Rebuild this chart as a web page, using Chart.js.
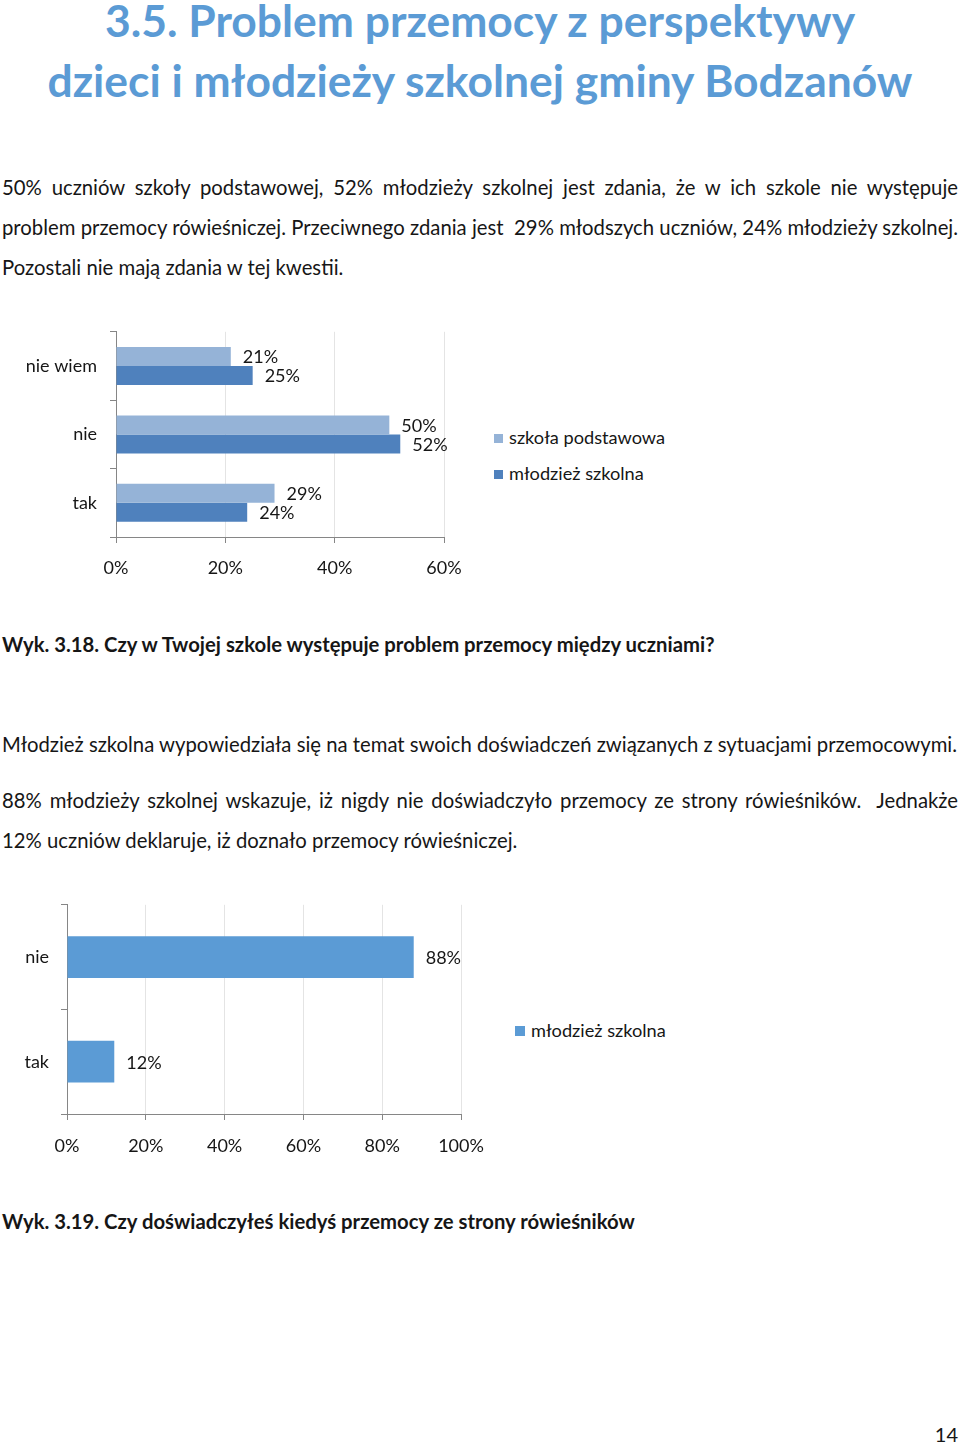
<!DOCTYPE html>
<html>
<head>
<meta charset="utf-8">
<script src="https://cdn.jsdelivr.net/npm/chart.js@4.4.1/dist/chart.umd.min.js"></script>
<style>
  body { margin: 0; background: #fff; width: 960px; height: 1444px; position: relative; font-family: Lato, 'Open Sans', sans-serif; color: #161616; overflow: hidden; }
  .t { position: absolute; white-space: nowrap; line-height: 30px; }
  .title { left: 0; width: 960px; text-align: center; font-weight: bold; color: #5b9bd5; font-size: 44.4px; line-height: 30px; }
  .ln { left: 2px; width: 956px; font-size: 20.3px; }
  .just { text-align: justify; text-align-last: justify; }
  .cap { left: 2px; font-size: 20.3px; font-weight: bold; }
  .leg { position: absolute; font-size: 18.2px; line-height: 24px; white-space: nowrap; }
  .leg i { display: inline-block; margin-right: 6px; vertical-align: 1px; }
  canvas { position: absolute; left: 0; }
</style>
</head>
<body>

<div class="t title" style="top:5px;">3.5. Problem przemocy z perspektywy</div>
<div class="t title" style="top:65px;">dzieci i młodzieży szkolnej gminy Bodzanów</div>

<div class="t ln just" style="top:172px;">50% uczniów szkoły podstawowej, 52% młodzieży szkolnej jest zdania, że w ich szkole nie występuje</div>
<div class="t ln just" style="top:212px;">problem przemocy rówieśniczej. Przeciwnego zdania jest &nbsp;29% młodszych uczniów, 24% młodzieży szkolnej.</div>
<div class="t ln" style="top:252px;">Pozostali nie mają zdania w tej kwestii.</div>

<canvas id="chart1" width="480" height="270"></canvas>
<div id="legend1"></div>

<div class="t cap" style="top:629px;">Wyk. 3.18. Czy w Twojej szkole występuje problem przemocy między uczniami?</div>

<div class="t ln" style="top:729px;">Młodzież szkolna wypowiedziała się na temat swoich doświadczeń związanych z sytuacjami przemocowymi.</div>
<div class="t ln just" style="top:785px;">88% młodzieży szkolnej wskazuje, iż nigdy nie doświadczyło przemocy ze strony rówieśników. &nbsp;Jednakże</div>
<div class="t ln" style="top:825px;">12% uczniów deklaruje, iż doznało przemocy rówieśniczej.</div>

<canvas id="chart2" width="500" height="280"></canvas>
<div id="legend2"></div>

<div class="t cap" style="top:1206px;">Wyk. 3.19. Czy doświadczyłeś kiedyś przemocy ze strony rówieśników</div>

<div class="t" style="top:1419px; right:2px; font-size:20px;">14</div>

<script>
// ── DATA ─────────────────────────────────────────────────────────────
var cats1 = ['nie wiem', 'nie', 'tak'];
var szkolaPodstawowa = [21, 50, 29];
var mlodziezSzkolna = [25, 52, 24];
var series1 = ['szkoła podstawowa', 'młodzież szkolna'];
var ticks1 = [0, 20, 40, 60];

var cats2 = ['nie', 'tak'];
var mlodziezSzkolna2 = [88, 12];
var series2 = ['młodzież szkolna'];
var ticks2 = [0, 20, 40, 60, 80, 100];

var lightBlue = '#95b3d7';
var darkBlue = '#4f81bd';
var midBlue = '#5b9bd5';
var axisGrey = '#868686';
var gridGrey = '#e4e4e4';
var fontFam = 'Lato, "Open Sans", sans-serif';

// value labels right of each bar
var barLabels = {
  id: 'barLabels',
  afterDatasetsDraw: function(chart) {
    var ctx = chart.ctx;
    ctx.save();
    ctx.font = '18px ' + fontFam;
    ctx.fillStyle = '#161616';
    ctx.textAlign = 'left';
    ctx.textBaseline = 'middle';
    chart.data.datasets.forEach(function(ds, i) {
      chart.getDatasetMeta(i).data.forEach(function(bar, j) {
        ctx.fillText(ds.data[j] + '%', bar.x + 12, bar.y + 1);
      });
    });
    ctx.restore();
  }
};

function makeOpts(tickVals, yWidth, xHeight, padRight, xPad, yPad) {
  return {
    indexAxis: 'y',
    responsive: false,
    animation: false,
    events: [],
    layout: { padding: { top: 0, right: padRight, left: 0, bottom: 0 } },
    plugins: { legend: { display: false }, tooltip: { enabled: false } },
    scales: {
      x: {
        min: tickVals[0],
        max: tickVals[tickVals.length - 1],
        afterBuildTicks: function(scale) {
          scale.ticks = tickVals.map(function(v) { return { value: v }; });
        },
        afterFit: function(scale) { scale.height = xHeight; },
        ticks: {
          color: '#161616',
          padding: xPad,
          maxRotation: 0,
          font: { family: fontFam, size: 18 },
          callback: function(v) { return v + '%'; }
        },
        grid: {
          color: function(c) { return c.tick && c.tick.value === 0 ? 'transparent' : gridGrey; },
          tickColor: axisGrey,
          tickLength: 6,
          lineWidth: 1
        },
        border: { color: axisGrey, width: 1 }
      },
      y: {
        afterFit: function(scale) { scale.width = yWidth; },
        ticks: {
          color: '#161616',
          padding: yPad,
          font: { family: fontFam, size: 18 }
        },
        grid: {
          drawOnChartArea: false,
          tickColor: axisGrey,
          color: axisGrey,
          tickLength: 6
        },
        border: { color: axisGrey, width: 1 }
      }
    }
  };
}

// place canvas so the plot area lands on [plotTop, plotBottom] of the page
function placeChart(id, config, plotTop, plotBottom, xHeight) {
  var canvas = document.getElementById(id);
  var chart = new Chart(canvas, config);
  var off = chart.chartArea.top;
  var h = Math.round(plotBottom - plotTop + off + xHeight);
  if (h !== canvas.height) {
    chart.destroy();
    canvas.height = h;
    chart = new Chart(canvas, config);
    off = chart.chartArea.top;
  }
  canvas.style.top = (plotTop - off) + 'px';
  return chart;
}

function buildLegend(id, labels, colors, left, tops, box) {
  var el = document.getElementById(id);
  el.innerHTML = labels.map(function(l, i) {
    return '<div class="leg" style="left:' + left + 'px;top:' + (tops[i] - 12) + 'px;"><i style="background:' + colors[i] +
      ';width:' + box + 'px;height:' + box + 'px;"></i>' + l + '</div>';
  }).join('');
}

// ── CHART 1 ──────────────────────────────────────────────────────────
placeChart('chart1', {
  type: 'bar',
  data: {
    labels: cats1,
    datasets: [
      { label: series1[0], data: szkolaPodstawowa, backgroundColor: lightBlue, categoryPercentage: 0.556, barPercentage: 1 },
      { label: series1[1], data: mlodziezSzkolna, backgroundColor: darkBlue, categoryPercentage: 0.556, barPercentage: 1 }
    ]
  },
  options: makeOpts(ticks1, 116, 53, 36, 14, 13),
  plugins: [barLabels]
}, 332, 537, 53);
buildLegend('legend1', series1, [lightBlue, darkBlue], 494, [437, 473], 9);

// ── CHART 2 ──────────────────────────────────────────────────────────
placeChart('chart2', {
  type: 'bar',
  data: {
    labels: cats2,
    datasets: [
      { label: series2[0], data: mlodziezSzkolna2, backgroundColor: midBlue, categoryPercentage: 0.40, barPercentage: 1 }
    ]
  },
  options: makeOpts(ticks2, 67, 56, 39, 15, 12),
  plugins: [barLabels]
}, 905, 1114, 56);
buildLegend('legend2', series2, [midBlue], 515, [1030], 10);
</script>
</body>
</html>
